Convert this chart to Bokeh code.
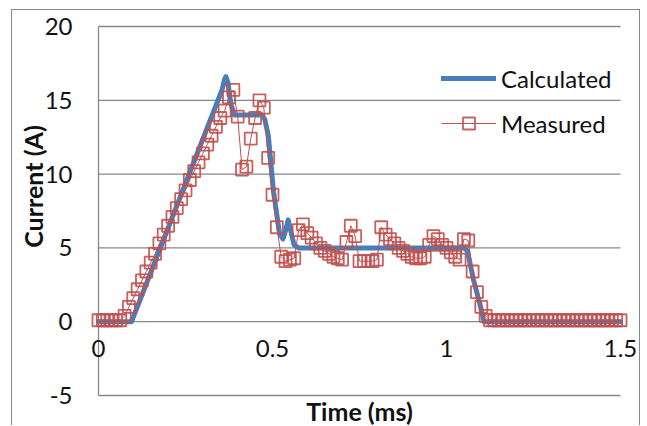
from bokeh.plotting import figure
from bokeh.models import (FixedTicker, Legend, LegendItem, Label,
                          Range1d, InlineStyleSheet)
from bokeh.embed import file_html
from bokeh.resources import INLINE
import math

# ---------------- data ----------------
calc_t = [0.0, 0.095, 0.355, 0.362, 0.366, 0.372, 0.38, 0.39, 0.47, 0.478,
          0.488, 0.503, 0.52, 0.53, 0.538, 0.545, 0.552, 0.562, 0.575, 1.05,
          1.06, 1.078, 1.098, 1.108, 1.5]
calc_i = [0.0, 0.0, 15.7, 16.4, 16.6, 16.2, 14.8, 14.0, 14.0, 13.7,
          12.6, 8.8, 6.0, 5.6, 6.2, 6.9, 6.2, 5.2, 5.0, 5.0,
          4.8, 2.8, 1.0, 0.0, 0.0]

meas_t = [0.0, 0.0125, 0.025, 0.0375, 0.05, 0.0625, 0.075, 0.0875,
          0.1, 0.1125, 0.125, 0.1375, 0.15, 0.1625, 0.175, 0.1875,
          0.2, 0.2125, 0.225, 0.2375, 0.25, 0.2625, 0.275, 0.2875,
          0.3, 0.3125, 0.325, 0.3375, 0.35, 0.3625, 0.375, 0.3875,
          0.4, 0.4125, 0.425, 0.4375, 0.45, 0.4625, 0.475, 0.4875,
          0.5, 0.5125, 0.525, 0.5375, 0.55, 0.5625, 0.575, 0.5875,
          0.6, 0.6125, 0.625, 0.6375, 0.65, 0.6625, 0.675, 0.6875,
          0.7, 0.7125, 0.725, 0.7375, 0.75, 0.7625, 0.775, 0.7875,
          0.8, 0.8125, 0.825, 0.8375, 0.85, 0.8625, 0.875, 0.8875,
          0.9, 0.9125, 0.925, 0.9375, 0.95, 0.9625, 0.975, 0.9875,
          1.0, 1.0125, 1.025, 1.0375, 1.05, 1.0625, 1.075, 1.0875,
          1.1, 1.1125, 1.125, 1.1375, 1.15, 1.1625, 1.175, 1.1875,
          1.2, 1.2125, 1.225, 1.2375, 1.25, 1.2625, 1.275, 1.2875,
          1.3, 1.3125, 1.325, 1.3375, 1.35, 1.3625, 1.375, 1.3875,
          1.4, 1.4125, 1.425, 1.4375, 1.45, 1.4625, 1.475, 1.4875,
          1.5]
meas_i = [0.1, 0.1, 0.1, 0.1, 0.1, 0.1, 0.4, 1.0,
          1.6, 2.2, 2.8, 3.4, 4.0, 4.6, 5.3, 5.9,
          6.5, 7.1, 7.7, 8.3, 8.9, 9.6, 10.2, 10.8,
          11.4, 12.0, 12.6, 13.2, 13.8, 14.3, 15.2, 15.7,
          13.9, 10.3, 10.5, 12.4, 13.8, 15.0, 14.5, 11.1,
          8.6, 6.4, 4.4, 4.1, 4.2, 4.3, 6.2, 6.6,
          6.0, 5.7, 5.3, 5.0, 4.8, 4.6, 4.4, 4.3,
          4.2, 5.4, 6.5, 5.8, 4.1, 4.1, 4.1, 4.1,
          4.2, 6.4, 5.9, 5.6, 5.3, 5.0, 4.8, 4.6,
          4.4, 4.3, 4.3, 4.4, 5.2, 5.8, 5.6, 5.2,
          5.0, 4.7, 4.4, 4.2, 5.6, 5.5, 3.4, 2.0,
          1.0, 0.4, 0.1, 0.1, 0.1, 0.1, 0.1, 0.1,
          0.1, 0.1, 0.1, 0.1, 0.1, 0.1, 0.1, 0.1,
          0.1, 0.1, 0.1, 0.1, 0.1, 0.1, 0.1, 0.1,
          0.1, 0.1, 0.1, 0.1, 0.1, 0.1, 0.1, 0.1,
          0.1]

x_ticks = [0, 0.5, 1, 1.5]
x_tick_labels = ["0", "0.5", "1", "1.5"]
y_ticks = [-5, 0, 5, 10, 15, 20]
y_tick_labels = ["-5", "0", "5", "10", "15", "20"]

series_names = ["Calculated", "Measured"]
x_title = "Time (ms)"
y_title = "Current (A)"

# axis extents of the plotting area
x_min, x_max = 0.0, 1.5
y_min, y_max = -5.0, 20.0

# ---------------- styling ----------------
FONT = "Lato"
GRID = "#888888"
BLUE = "#4A7EBB"
RED = "#C0504D"
TXT = "#111111"

# canvas covers the whole chart box; the data area maps 0..1.5 / -5..20
# onto the same pixels as in the reference chart
p = figure(width=629, height=416,
           x_range=Range1d(-0.2471, 1.5603), y_range=Range1d(-7.10, 21.084),
           output_backend="svg", toolbar_location=None, min_border=0)
p.stylesheets = [InlineStyleSheet(css=":host{margin-left:11px;margin-top:9px;"
                                      "border:1px solid #888888;border-bottom:none;}")]
p.outline_line_color = None
p.background_fill_color = "white"
p.border_fill_color = "white"
p.grid.visible = False

# horizontal gridlines and the vertical axis line of the plot area
p.segment(x0=[x_min] * len(y_ticks), x1=[x_max] * len(y_ticks),
          y0=y_ticks, y1=y_ticks, line_color=GRID, line_width=1.3)
p.segment(x0=[x_min], x1=[x_min], y0=[y_min], y1=[y_max],
          line_color=GRID, line_width=1.3)

# x axis labels sitting on y = 0
xa = p.xaxis[0]
xa.fixed_location = 0
xa.ticker = FixedTicker(ticks=x_ticks)
xa.major_label_overrides = dict(zip(x_ticks, x_tick_labels))
xa.axis_line_color = None
xa.major_tick_line_color = None
xa.minor_tick_line_color = None
xa.major_tick_out = 0
xa.major_tick_in = 0
xa.major_label_standoff = 18
xa.major_label_text_font = FONT
xa.major_label_text_font_size = "24px"
xa.major_label_text_color = TXT

ya = p.yaxis[0]
ya.fixed_location = 0
ya.ticker = FixedTicker(ticks=y_ticks)
ya.major_label_overrides = dict(zip(y_ticks, y_tick_labels))
ya.axis_line_color = None
ya.major_tick_line_color = None
ya.minor_tick_line_color = None
ya.major_tick_out = 0
ya.major_tick_in = 0
ya.major_label_standoff = 26
ya.major_label_text_font = FONT
ya.major_label_text_font_size = "24px"
ya.major_label_text_color = TXT

# axis titles
p.add_layout(Label(x=(x_min + x_max) / 2, y=-6.02, text=x_title,
                   text_align="center", text_baseline="middle",
                   text_font=FONT, text_font_size="25px",
                   text_font_style="bold", text_color=TXT))
p.add_layout(Label(x=-0.187, y=9.16, text=y_title, angle=math.pi / 2,
                   text_align="center", text_baseline="middle",
                   text_font=FONT, text_font_size="25px",
                   text_font_style="bold", text_color=TXT))

r_calc = p.line(calc_t, calc_i, line_width=5, line_color=BLUE,
                line_join="round", line_cap="round")
r_ml = p.line(meas_t, meas_i, line_width=1, line_color=RED)
r_ms = p.scatter(meas_t, meas_i, marker="square", size=12,
                 fill_color=None, line_color=RED, line_width=1.8, line_alpha=0.9)

legend = Legend(items=[LegendItem(label=series_names[0], renderers=[r_calc]),
                       LegendItem(label=series_names[1], renderers=[r_ml, r_ms])],
                location=(429, 288), border_line_color=None,
                background_fill_alpha=0, padding=0, margin=0, spacing=15,
                glyph_width=55, glyph_height=30, label_height=30,
                label_standoff=5, label_text_font=FONT,
                label_text_font_size="24px", label_text_color=TXT)
p.add_layout(legend)

open("out.html", "w").write(file_html(p, INLINE))
